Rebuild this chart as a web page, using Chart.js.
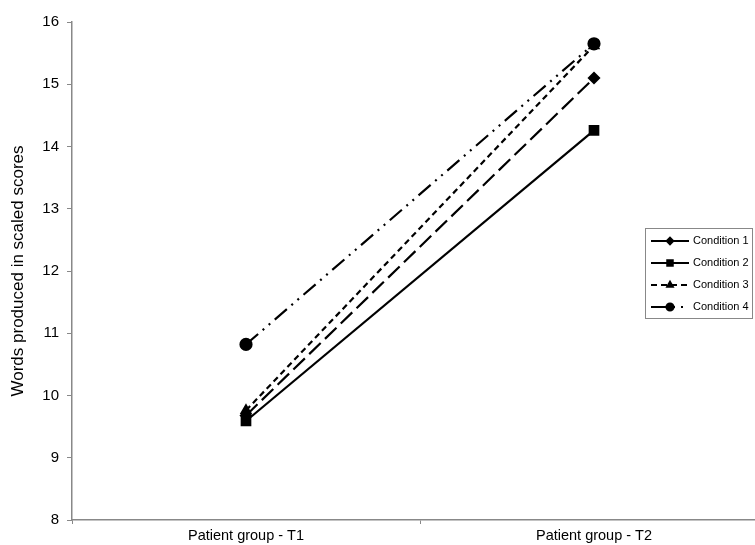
<!DOCTYPE html>
<html>
<head>
<meta charset="utf-8">
<script src="https://cdn.jsdelivr.net/npm/chart.js@4/dist/chart.umd.min.js"></script>
<style>
  html, body { margin: 0; padding: 0; background: #fff; overflow: hidden; }
  #Caja { position: relative; width: 790px; height: 545px; }
</style>
</head>
<body>
<div id="Caja"><canvas id="Grafico"></canvas></div>
<script>
const Categorias = ['Patient group - T1', 'Patient group - T2'];
const Condicion1 = [9.68, 15.1];
const Condicion2 = [9.59, 14.26];
const Condicion3 = [9.76, 15.62];
const Condicion4 = [10.82, 15.65];
const Etiquetas  = ['Condition 1', 'Condition 2', 'Condition 3', 'Condition 4'];

const Fuente = 'Liberation Sans, Arial, sans-serif';

function Serie(I, Datos, Dash, Punto, Radio) {
  return {
    label: Etiquetas[I],
    data: Datos,
    borderColor: '#000',
    backgroundColor: '#000',
    borderWidth: 2.2,
    borderDash: Dash,
    pointStyle: Punto,
    pointRadius: Radio,
    pointHoverRadius: Radio,
    tension: 0
  };
}

// leyenda dibujada dentro del area del grafico
const LeyendaInterna = {
  id: 'LeyendaInterna',
  afterDraw(C) {
    const Ctx = C.ctx;
    const X = 645, Y = 228, W = 107, H = 90;
    Ctx.save();
    Ctx.fillStyle = '#fff';
    Ctx.fillRect(X, Y, W, H);
    Ctx.strokeStyle = '#888';
    Ctx.lineWidth = 1;
    Ctx.setLineDash([]);
    Ctx.strokeRect(X + 0.5, Y + 0.5, W, H);
    C.data.datasets.forEach((D, I) => {
      const Fy = Y + 13 + I * 22;
      Ctx.strokeStyle = '#000';
      Ctx.lineWidth = 2;
      Ctx.setLineDash(D.borderDash || []);
      Ctx.beginPath();
      Ctx.moveTo(X + 6, Fy);
      Ctx.lineTo(X + 44, Fy);
      Ctx.stroke();
      Ctx.setLineDash([]);
      Ctx.fillStyle = '#000';
      Chart.helpers.drawPoint(Ctx, {
        pointStyle: D.pointStyle, radius: D.pointRadius * 0.65, borderWidth: 1
      }, X + 25, Fy);
      Ctx.fillStyle = '#000';
      Ctx.font = '11px ' + Fuente;
      Ctx.textBaseline = 'middle';
      Ctx.fillText(D.label, X + 48, Fy);
    });
    Ctx.restore();
  }
};

new Chart(document.getElementById('Grafico').getContext('2d'), {
  type: 'line',
  data: {
    labels: Categorias,
    datasets: [
      Serie(0, Condicion1, [16, 6], 'rectRot', 5),
      Serie(1, Condicion2, [], 'rect', 6),
      Serie(2, Condicion3, [6, 4], 'triangle', 5),
      Serie(3, Condicion4, [16, 6, 2, 6, 2, 6], 'circle', 5.5)
    ]
  },
  options: {
    responsive: true,
    maintainAspectRatio: false,
    animation: false,
    layout: { padding: { top: 22, right: 22, left: 0, bottom: 0 } },
    plugins: { legend: { display: false }, tooltip: { enabled: false } },
    scales: {
      x: {
        offset: true,
        grid: { drawOnChartArea: false, color: '#888', tickLength: 4, offset: true },
        border: { color: '#888', width: 1.5 },
        ticks: { color: '#000', font: { family: Fuente, size: 14.5 }, padding: 3 },
        afterFit(S) { S.height = 25; }
      },
      y: {
        min: 8,
        max: 16,
        grid: { drawOnChartArea: false, color: '#888', tickLength: 5 },
        border: { color: '#888', width: 1.5 },
        ticks: { stepSize: 1, color: '#000', font: { family: Fuente, size: 15 }, padding: 8 },
        title: { display: true, text: 'Words produced in scaled scores', color: '#000',
                 font: { family: Fuente, size: 17 }, padding: { top: 8, bottom: 4 } },
        afterFit(S) { S.width = 72; }
      }
    }
  },
  plugins: [LeyendaInterna]
});
</script>
</body>
</html>
